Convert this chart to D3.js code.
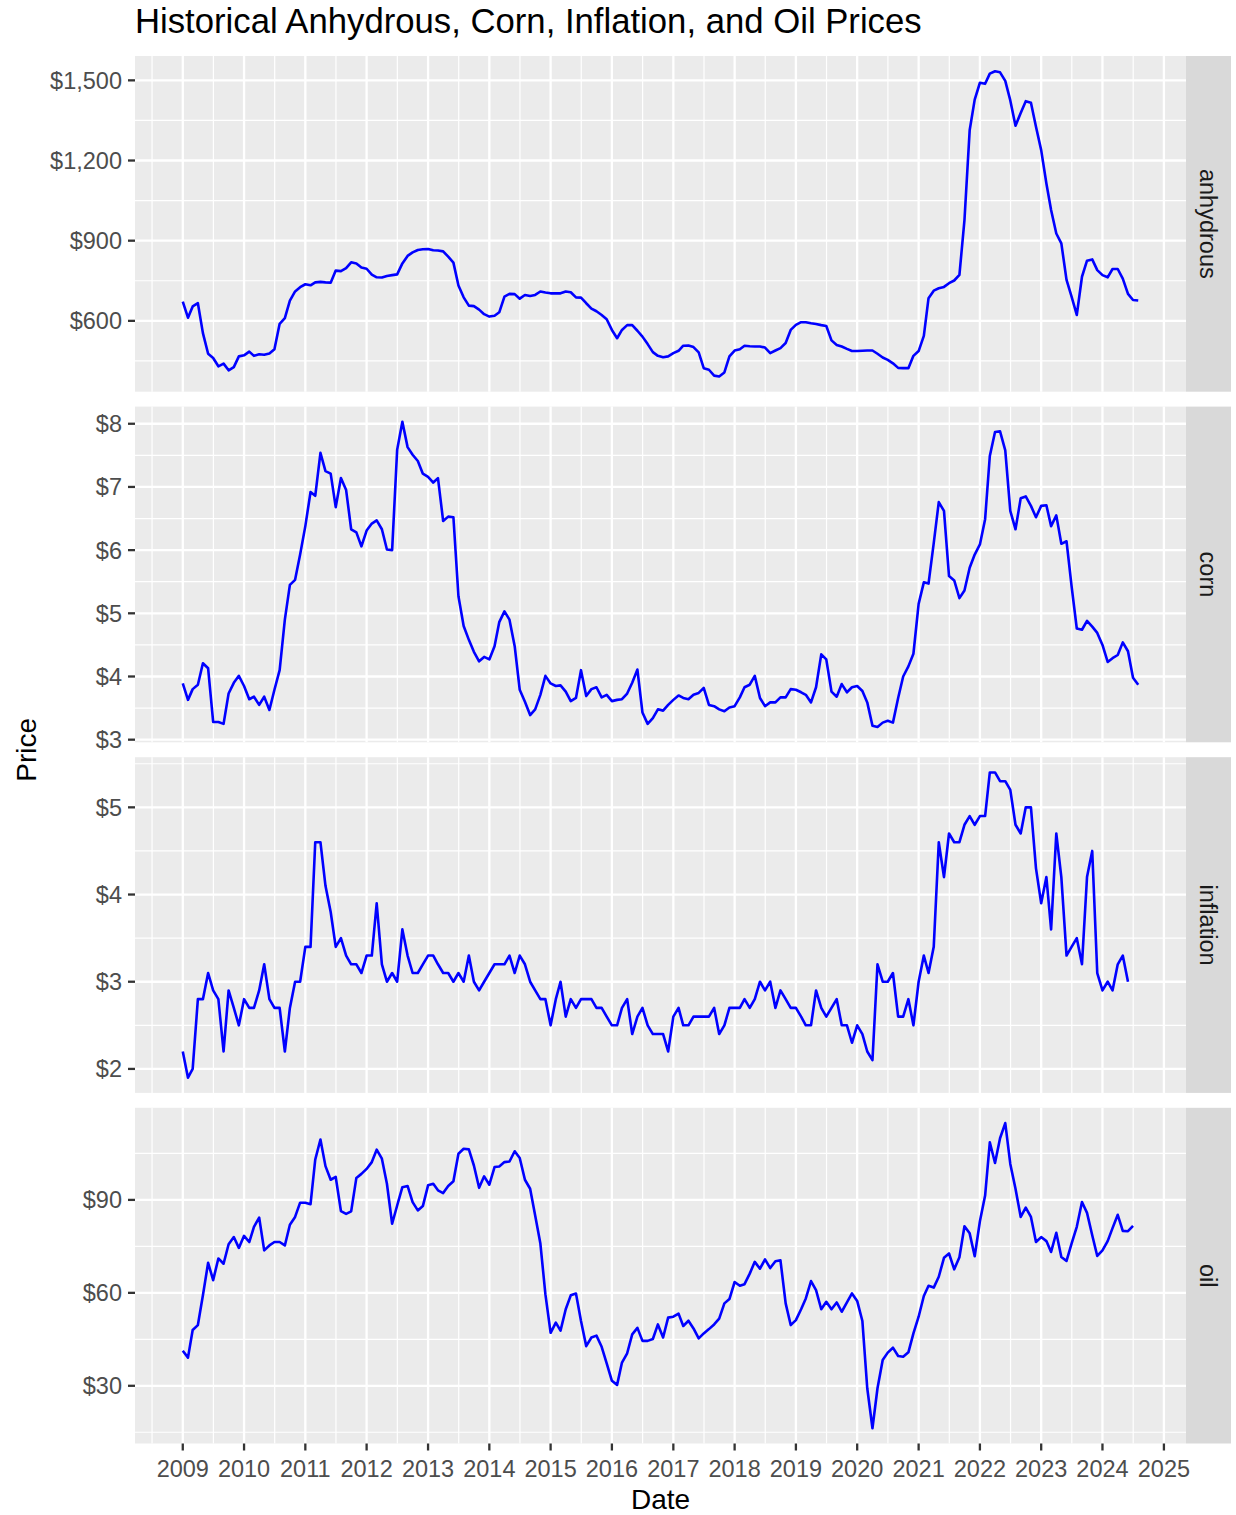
<!DOCTYPE html>
<html>
<head>
<meta charset="utf-8">
<script src="https://cdn.jsdelivr.net/npm/d3@7/dist/d3.min.js"></script>
<style>
  html, body { margin: 0; padding: 0; background: #ffffff; }
  svg text { font-family: 'Liberation Sans', Arial, Helvetica, sans-serif; }
</style>
</head>
<body>
<svg id="chart" width="1236" height="1515"></svg>
<script>
// monthly series, first value is Jan 2009
const startMonth = new Date(2009, 0, 1)

const anhydrous = [
  672, 612, 654, 666, 554, 477, 461, 430, 440, 415, 427, 467,
  471, 485, 469, 475, 473, 478, 494, 589, 610, 676, 710, 726,
  737, 733, 744, 746, 744, 743, 788, 786, 797, 819, 815, 800,
  795, 773, 763, 762, 768, 771, 774, 815, 843, 856, 865, 868,
  869, 864, 863, 860, 840, 818, 732, 688, 657, 655, 642, 625,
  616, 619, 632, 691, 701, 700, 683, 697, 693, 697, 710, 706,
  703, 703, 703, 710, 707, 688, 687, 666, 646, 636, 622, 606,
  566, 535, 566, 584, 584, 563, 541, 513, 483, 469, 464, 467,
  479, 488, 507, 508, 502, 482, 423, 417, 395, 392, 407, 467,
  489, 494, 507, 505, 504, 504, 500, 479, 489, 498, 517, 566,
  585, 595, 595, 591, 588, 584, 581, 527, 510, 504, 495, 487,
  487, 488, 489, 489, 477, 463, 454, 441, 424, 423, 423, 469,
  487, 544, 685, 713, 722, 727, 741, 751, 772, 977, 1313, 1428,
  1491, 1487, 1525, 1534, 1530, 1498, 1425, 1330, 1378, 1422, 1416, 1326,
  1239, 1114, 1015, 927, 890, 753, 691, 622, 765, 825, 830, 790,
  771, 763, 794, 794, 758, 701, 678, 676
]

const corn = [
  3.89, 3.63, 3.80, 3.87, 4.21, 4.13, 3.28, 3.28, 3.25, 3.73, 3.90, 4.01,
  3.85, 3.64, 3.68, 3.55, 3.68, 3.47, 3.79, 4.10, 4.90, 5.45, 5.53, 5.93,
  6.38, 6.92, 6.86, 7.54, 7.25, 7.21, 6.68, 7.14, 6.95, 6.33, 6.28, 6.06,
  6.31, 6.42, 6.47, 6.33, 6.01, 6.00, 7.59, 8.03, 7.63, 7.51, 7.41, 7.21,
  7.16, 7.07, 7.14, 6.46, 6.53, 6.52, 5.27, 4.80, 4.58, 4.39, 4.24, 4.31,
  4.27, 4.48, 4.86, 5.03, 4.90, 4.48, 3.79, 3.60, 3.39, 3.48, 3.71, 4.01,
  3.89, 3.85, 3.86, 3.76, 3.61, 3.66, 4.10, 3.69, 3.80, 3.83, 3.67, 3.71,
  3.61, 3.63, 3.64, 3.73, 3.90, 4.11, 3.43, 3.25, 3.34, 3.48, 3.46, 3.55,
  3.63, 3.70, 3.66, 3.64, 3.71, 3.74, 3.82, 3.55, 3.53, 3.48, 3.45, 3.51,
  3.53, 3.67, 3.83, 3.87, 4.01, 3.66, 3.53, 3.59, 3.59, 3.67, 3.67, 3.80,
  3.79, 3.75, 3.71, 3.59, 3.83, 4.35, 4.27, 3.76, 3.68, 3.88, 3.75, 3.83,
  3.85, 3.77, 3.59, 3.22, 3.20, 3.27, 3.30, 3.27, 3.66, 4.00, 4.16, 4.36,
  5.15, 5.49, 5.47, 6.11, 6.76, 6.62, 5.59, 5.52, 5.24, 5.36, 5.72, 5.93,
  6.09, 6.49, 7.49, 7.87, 7.88, 7.58, 6.62, 6.33, 6.82, 6.85, 6.70, 6.52,
  6.70, 6.71, 6.38, 6.55, 6.10, 6.14, 5.43, 4.76, 4.74, 4.88, 4.79, 4.69,
  4.50, 4.23, 4.29, 4.34, 4.54, 4.40, 3.98, 3.87
]

const inflation = [
  2.2, 1.9, 2.0, 2.8, 2.8, 3.1, 2.9, 2.8, 2.2, 2.9, 2.7, 2.5,
  2.8, 2.7, 2.7, 2.9, 3.2, 2.8, 2.7, 2.7, 2.2, 2.7, 3.0, 3.0,
  3.4, 3.4, 4.6, 4.6, 4.1, 3.8, 3.4, 3.5, 3.3, 3.2, 3.2, 3.1,
  3.3, 3.3, 3.9, 3.2, 3.0, 3.1, 3.0, 3.6, 3.3, 3.1, 3.1, 3.2,
  3.3, 3.3, 3.2, 3.1, 3.1, 3.0, 3.1, 3.0, 3.3, 3.0, 2.9, 3.0,
  3.1, 3.2, 3.2, 3.2, 3.3, 3.1, 3.3, 3.2, 3.0, 2.9, 2.8, 2.8,
  2.5, 2.8, 3.0, 2.6, 2.8, 2.7, 2.8, 2.8, 2.8, 2.7, 2.7, 2.6,
  2.5, 2.5, 2.7, 2.8, 2.4, 2.6, 2.7, 2.5, 2.4, 2.4, 2.4, 2.2,
  2.6, 2.7, 2.5, 2.5, 2.6, 2.6, 2.6, 2.6, 2.7, 2.4, 2.5, 2.7,
  2.7, 2.7, 2.8, 2.7, 2.8, 3.0, 2.9, 3.0, 2.7, 2.9, 2.8, 2.7,
  2.7, 2.6, 2.5, 2.5, 2.9, 2.7, 2.6, 2.7, 2.8, 2.5, 2.5, 2.3,
  2.5, 2.4, 2.2, 2.1, 3.2, 3.0, 3.0, 3.1, 2.6, 2.6, 2.8, 2.5,
  3.0, 3.3, 3.1, 3.4, 4.6, 4.2, 4.7, 4.6, 4.6, 4.8, 4.9, 4.8,
  4.9, 4.9, 5.4, 5.4, 5.3, 5.3, 5.2, 4.8, 4.7, 5.0, 5.0, 4.3,
  3.9, 4.2, 3.6, 4.7, 4.2, 3.3, 3.4, 3.5, 3.2, 4.2, 4.5, 3.1,
  2.9, 3.0, 2.9, 3.2, 3.3, 3.0
]

const oil = [
  41.3, 39.1, 48.0, 49.6, 59.2, 69.7, 64.1, 71.1, 69.4, 75.7, 78.0, 74.5,
  78.4, 76.4, 81.3, 84.3, 73.7, 75.3, 76.4, 76.4, 75.3, 82.0, 84.5, 89.1,
  89.1, 88.6, 103.0, 109.5, 100.9, 96.5, 97.4, 86.4, 85.5, 86.3, 97.1, 98.4,
  100.0, 102.2, 106.2, 103.3, 95.2, 82.3, 88.2, 94.1, 94.5, 89.3, 86.6, 88.0,
  94.7, 95.2, 93.1, 92.2, 94.5, 96.0, 104.9, 106.5, 106.3, 101.1, 93.9, 97.6,
  94.9, 100.6, 100.8, 102.2, 102.4, 105.7, 103.5, 96.5, 93.6, 85.0, 75.9, 59.5,
  47.1, 50.4, 47.8, 54.7, 59.2, 59.8, 50.9, 42.8, 45.6, 46.2, 42.6, 37.2,
  31.6, 30.3, 37.5, 40.5, 46.6, 48.7, 44.5, 44.5, 45.1, 49.8, 45.6, 52.0,
  52.3, 53.3, 49.3, 51.0, 48.5, 45.3, 46.9, 48.3, 49.8, 51.7, 56.6, 58.0,
  63.5, 62.3, 62.8, 66.2, 70.0, 67.8, 70.8, 68.0, 70.2, 70.5, 56.6, 49.6,
  51.2, 54.7, 58.2, 63.8, 60.9, 54.7, 57.1, 54.7, 56.9, 53.9, 56.9, 59.8,
  57.4, 50.9, 29.2, 16.3, 29.2, 38.3, 40.7, 42.3, 39.6, 39.4, 40.8, 46.9,
  52.3, 59.0, 62.3, 61.7, 65.2, 71.3, 72.7, 67.6, 71.5, 81.5, 79.2, 71.8,
  83.1, 91.4, 108.6, 101.9, 109.9, 114.8, 101.6, 93.6, 84.5, 87.5, 84.5, 76.4,
  78.0, 76.7, 73.2, 79.4, 71.6, 70.3, 75.9, 81.3, 89.3, 85.8, 78.6, 71.9,
  73.7, 76.7, 80.9, 85.2, 80.0, 79.9, 81.6
]

// axis breaks
const yearTicks = d3.range(2009, 2026)
const anhydrousTicks = [600, 900, 1200, 1500]
const cornTicks = [3, 4, 5, 6, 7, 8]
const inflationTicks = [2, 3, 4, 5]
const oilTicks = [30, 60, 90]

const facets = [
  { name: 'anhydrous', values: anhydrous, ticks: anhydrousTicks },
  { name: 'corn', values: corn, ticks: cornTicks },
  { name: 'inflation', values: inflation, ticks: inflationTicks },
  { name: 'oil', values: oil, ticks: oilTicks }
]

const W = 1236, H = 1515
const panelLeft = 135, panelRight = 1186, stripW = 45
const panelTop = 56, panelH = 335.7, gap = 14.9
const majorW = 2.3, minorW = 1.2
const tickLen = 7
const tickFont = 23.5
const fmt = d3.format('$,')

const svg = d3.select('#chart')
svg.append('rect').attr('width', W).attr('height', H).attr('fill', '#ffffff')

// turn arrays into {date, value}
for (const f of facets) {
  f.rows = f.values.map((v, i) => ({ date: d3.timeMonth.offset(startMonth, i), value: v }))
}

const allDates = facets.flatMap(f => f.rows.map(r => r.date))
const [d0, d1] = d3.extent(allDates)
const span = d1 - d0
const x = d3.scaleTime()
  .domain([new Date(+d0 - span * 0.05), new Date(+d1 + span * 0.05)])
  .range([panelLeft, panelRight])

const yearDates = yearTicks.map(y => new Date(y, 0, 1))
const xMinor = d3.range(2008, 2026)
  .map(y => new Date((+new Date(y, 0, 1) + +new Date(y + 1, 0, 1)) / 2))
  .filter(d => d >= x.domain()[0] && d <= x.domain()[1])

// ggplot style minor breaks: midpoints between majors, one step beyond each end
function minorBreaks(ticks, domain) {
  const step = ticks[1] - ticks[0]
  const out = []
  for (let v = ticks[0] - step / 2; v <= ticks[ticks.length - 1] + step / 2 + 1e-9; v += step) out.push(v)
  return out.filter(v => v >= domain[0] && v <= domain[1])
}

facets.forEach((f, i) => {
  const top = panelTop + i * (panelH + gap)
  const bottom = top + panelH
  const ext = d3.extent(f.values)
  const pad = (ext[1] - ext[0]) * 0.05
  const y = d3.scaleLinear().domain([ext[0] - pad, ext[1] + pad]).range([bottom, top])

  const g = svg.append('g').attr('class', 'panel-' + f.name)
  g.append('rect')
    .attr('x', panelLeft).attr('y', top)
    .attr('width', panelRight - panelLeft).attr('height', panelH)
    .attr('fill', '#EBEBEB')

  // minor grid
  g.selectAll('.ymin').data(minorBreaks(f.ticks, y.domain())).join('line')
    .attr('x1', panelLeft).attr('x2', panelRight)
    .attr('y1', d => y(d)).attr('y2', d => y(d))
    .attr('stroke', '#fff').attr('stroke-width', minorW)
  g.selectAll('.xmin').data(xMinor).join('line')
    .attr('y1', top).attr('y2', bottom)
    .attr('x1', d => x(d)).attr('x2', d => x(d))
    .attr('stroke', '#fff').attr('stroke-width', minorW)

  // major grid
  g.selectAll('.ymaj').data(f.ticks).join('line')
    .attr('x1', panelLeft).attr('x2', panelRight)
    .attr('y1', d => y(d)).attr('y2', d => y(d))
    .attr('stroke', '#fff').attr('stroke-width', majorW)
  g.selectAll('.xmaj').data(yearDates).join('line')
    .attr('y1', top).attr('y2', bottom)
    .attr('x1', d => x(d)).attr('x2', d => x(d))
    .attr('stroke', '#fff').attr('stroke-width', majorW)

  // the series
  const line = d3.line().x(d => x(d.date)).y(d => y(d.value))
  g.append('path')
    .datum(f.rows)
    .attr('d', line)
    .attr('fill', 'none')
    .attr('stroke', '#0000FF')
    .attr('stroke-width', 2.6)
    .attr('stroke-linejoin', 'round')

  // y axis
  const ax = g.append('g')
  ax.selectAll('line').data(f.ticks).join('line')
    .attr('x1', panelLeft - tickLen).attr('x2', panelLeft)
    .attr('y1', d => y(d)).attr('y2', d => y(d))
    .attr('stroke', '#333333').attr('stroke-width', majorW)
  ax.selectAll('text').data(f.ticks).join('text')
    .attr('x', panelLeft - tickLen - 6)
    .attr('y', d => y(d))
    .attr('dy', '0.36em')
    .attr('text-anchor', 'end')
    .attr('font-size', tickFont)
    .attr('fill', '#4D4D4D')
    .text(d => fmt(d))

  // strip on the right
  g.append('rect')
    .attr('x', panelRight).attr('y', top)
    .attr('width', stripW).attr('height', panelH)
    .attr('fill', '#D9D9D9')
  g.append('text')
    .attr('transform', `translate(${panelRight + stripW / 2},${top + panelH / 2}) rotate(90)`)
    .attr('dy', '0.36em')
    .attr('text-anchor', 'middle')
    .attr('font-size', tickFont)
    .attr('fill', '#1A1A1A')
    .text(f.name)

  // x axis only under the last panel
  if (i === facets.length - 1) {
    const bx = g.append('g')
    bx.selectAll('line').data(yearDates).join('line')
      .attr('x1', d => x(d)).attr('x2', d => x(d))
      .attr('y1', bottom).attr('y2', bottom + tickLen)
      .attr('stroke', '#333333').attr('stroke-width', majorW)
    bx.selectAll('text').data(yearDates).join('text')
      .attr('x', d => x(d))
      .attr('y', bottom + 33)
      .attr('text-anchor', 'middle')
      .attr('font-size', tickFont)
      .attr('fill', '#4D4D4D')
      .text(d => d.getFullYear())
  }
})

const lastBottom = panelTop + facets.length * panelH + (facets.length - 1) * gap

svg.append('text')
  .attr('x', panelLeft).attr('y', 33)
  .attr('font-size', 34.7)
  .attr('fill', '#000')
  .text('Historical Anhydrous, Corn, Inflation, and Oil Prices')

svg.append('text')
  .attr('x', (panelLeft + panelRight) / 2).attr('y', lastBottom + 65)
  .attr('text-anchor', 'middle')
  .attr('font-size', 28)
  .attr('fill', '#000')
  .text('Date')

svg.append('text')
  .attr('transform', `translate(36,${(panelTop + lastBottom) / 2}) rotate(-90)`)
  .attr('text-anchor', 'middle')
  .attr('font-size', 28)
  .attr('fill', '#000')
  .text('Price')
</script>
</body>
</html>
